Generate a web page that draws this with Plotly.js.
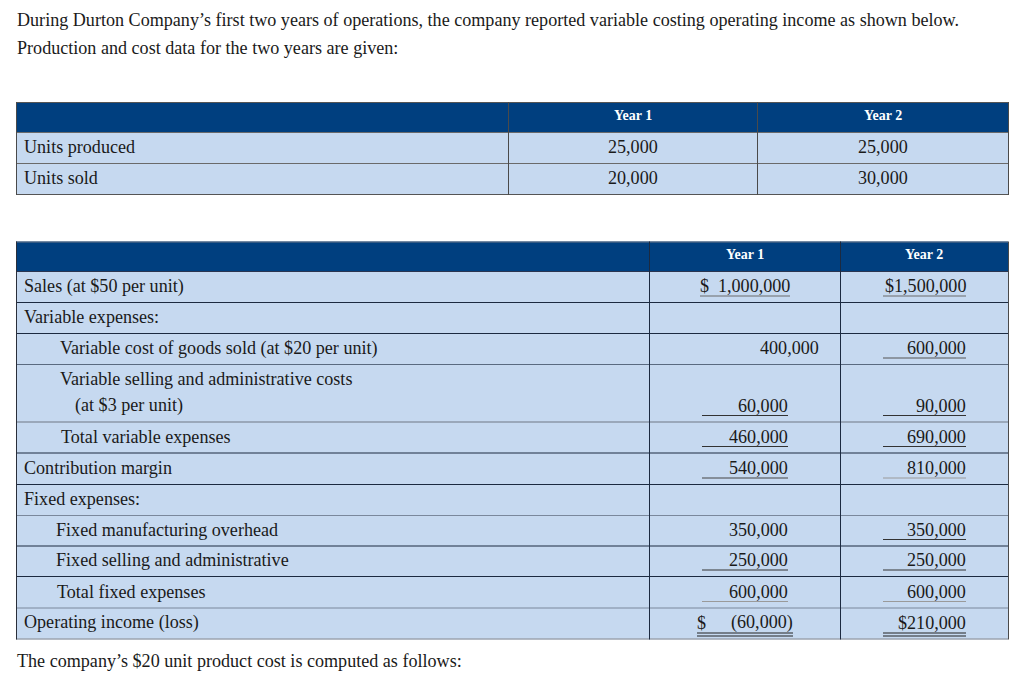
<!DOCTYPE html>
<html>
<head>
<meta charset="utf-8">
<script src="https://cdn.plot.ly/plotly-3.0.1.min.js"></script>
<style>
html, body { margin: 0; padding: 0; background: #ffffff; }
#chart { width: 1024px; height: 688px; }
</style>
</head>
<body>
<div id="chart"></div>
<script>
// ---------------- data ----------------
const introLines = [
  "During Durton Company’s first two years of operations, the company reported variable costing operating income as shown below.",
  "Production and cost data for the two years are given:"
];
const footerText = "The company’s $20 unit product cost is computed as follows:";
const yearLabels = ["Year 1", "Year 2"];

const unitRows = ["Units produced", "Units sold"];
const unitsYear1 = [25000, 20000];
const unitsYear2 = [25000, 30000];

const incomeRows = [
  ["Sales (at $50 per unit)"],
  ["Variable expenses:"],
  ["Variable cost of goods sold (at $20 per unit)"],
  ["Variable selling and administrative costs", "(at $3 per unit)"],
  ["Total variable expenses"],
  ["Contribution margin"],
  ["Fixed expenses:"],
  ["Fixed manufacturing overhead"],
  ["Fixed selling and administrative"],
  ["Total fixed expenses"],
  ["Operating income (loss)"]
];
const incomeYear1 = [1000000, null, 400000, 60000, 460000, 540000, null, 350000, 250000, 600000, -60000];
const incomeYear2 = [1500000, null, 600000, 90000, 690000, 810000, null, 350000, 250000, 600000, 210000];
// which rows carry a dollar sign
const dollarRows = [true, false, false, false, false, false, false, false, false, false, true];

// ---------------- layout / style (not data) ----------------
const FONT = '"Liberation Serif", "Times New Roman", Times, serif';
const NAVY = '#003f7f';
const LIGHT = '#c6d9f0';
const TXT = '#1a1a1a';

const T1 = { cols: [16, 508, 757, 1008], top: 102, heights: [30, 31, 31] };
const T2 = { cols: [16, 649, 840, 1008], top: 241.5,
             heights: [29.5, 31, 31, 31, 57.5, 31, 31.5, 31, 30.5, 30.5, 31.5, 31] };
// label x positions (indentation), second-line indent for wrapped label
const labelX2 = [24, 24, 60, 60, 61, 24, 24, 56, 56, 57, 24];
const labelX2b = 75;
// underline kind per row: 0 none, 1 single, 2 double
const rule1 = [1, 0, 0, 1, 1, 1, 0, 0, 1, 1, 2];
const rule2 = [1, 0, 1, 1, 1, 1, 0, 1, 1, 1, 2];
const ruleColor1 = ['#6a6a6a', '', '', '#333', '#333', '#444', '', '', '#333', '#9a9a9a', '#222'];
const ruleColor2 = ['#6a6a6a', '', '#555', '#333', '#333', '#9a9a9a', '', '#333', '#333', '#9a9a9a', '#222'];
// right edges of values
const rightY1 = [790, 788, 819, 788, 788, 788, 788, 788, 788, 788, 793];
const rightY2 = 966;
const dollarX1 = [700, 0, 0, 0, 0, 0, 0, 0, 0, 0, 697];
const ruleX1 = [[700, 790], [702, 788], [702, 788], [702, 788], [702, 788], [702, 788], [702, 788], [702, 788], [702, 788], [702, 788], [697, 793]];
const ruleX2 = [883, 966];
// bottom border colour per row of table 2 (index 0 = header)
const border2 = ['#2a3550', '#1c2a40', '#1c2a40', '#5a6a80', '#9aa8ba', '#1c2a40', '#1c2a40', '#7a889c', '#1c2a40', '#1c2a40', '#7a889c', '#6a7688'];

// ---------------- helpers ----------------
const shapes = [];
const annotations = [];
function rect(x0, x1, y0, y1, fill) {
  shapes.push({ type: 'rect', xref: 'x', yref: 'y', x0, x1, y0, y1, fillcolor: fill, line: { width: 0 }, layer: 'below' });
}
function hline(x0, x1, y, color, w) {
  shapes.push({ type: 'line', xref: 'x', yref: 'y', x0, x1, y0: y, y1: y, line: { color, width: w || 1 } });
}
function vline(x, y0, y1, color, w) {
  shapes.push({ type: 'line', xref: 'x', yref: 'y', x0: x, x1: x, y0, y1, line: { color, width: w || 1 } });
}
function label(str, x, y, anchor, font) {
  annotations.push({
    xref: 'x', yref: 'y', x, y, text: str, showarrow: false,
    xanchor: anchor, yanchor: 'middle', borderpad: 0, borderwidth: 0,
    font: Object.assign({ family: FONT, size: 18.1, color: TXT }, font || {})
  });
}
function fmt(v) {
  const s = Math.abs(v).toLocaleString('en-US');
  return v < 0 ? '(' + s + ')' : s;
}
function edges(t) {
  const e = [t.top];
  t.heights.forEach(h => e.push(e[e.length - 1] + h));
  return e;
}

// ---------------- intro / footer text ----------------
label(introLines[0], 17, 20, 'left');
label(introLines[1], 17, 48, 'left');
label(footerText, 17, 661, 'left');

// ---------------- table 1 ----------------
(function () {
  const c = T1.cols, e = edges(T1);
  rect(c[0], c[3], e[0], e[1], NAVY);
  rect(c[0], c[3], e[1], e[e.length - 1], LIGHT);
  hline(c[0], c[3], e[0] + 0.5, '#555');
  for (let i = 1; i < e.length; i++) hline(c[0], c[3], e[i] + 0.5, i === e.length - 1 ? '#555' : '#6a6a6a');
  vline(c[0] + 0.5, e[0], e[e.length - 1] + 1, '#4a4a4a');
  vline(c[1] + 0.5, e[0], e[e.length - 1] + 1, '#4a4a4a');
  vline(c[2] + 0.5, e[0], e[e.length - 1] + 1, '#4a4a4a');
  vline(c[3] + 0.5, e[0], e[e.length - 1] + 1, '#4a4a4a');
  yearLabels.forEach((yl, k) => {
    label('<b>' + yl + '</b>', (c[k + 1] + c[k + 2]) / 2, (e[0] + e[1]) / 2 - 1.5, 'center', { size: 14, color: '#ffffff' });
  });
  unitRows.forEach((r, i) => {
    const yc = (e[i + 1] + e[i + 2]) / 2 - 0.5;
    label(r, 24, yc, 'left');
    label(fmt(unitsYear1[i]), (c[1] + c[2]) / 2, yc, 'center');
    label(fmt(unitsYear2[i]), (c[2] + c[3]) / 2, yc, 'center');
  });
})();

// ---------------- table 2 ----------------
(function () {
  const c = T2.cols, e = edges(T2);
  rect(c[0], c[3], e[0], e[1], NAVY);
  rect(c[0], c[3], e[1], e[e.length - 1], LIGHT);
  hline(c[0], c[3], e[0] + 0.5, '#6a7688');
  for (let i = 1; i < e.length; i++) {
    hline(c[0], c[3], e[i] + 0.5, border2[i - 1], i === 5 ? 2 : 1);
  }
  vline(c[0] + 0.5, e[0], e[e.length - 1] + 1, '#2a2f3a');
  vline(c[1] + 0.5, e[0], e[e.length - 1] + 1, '#1c2a40');
  vline(c[2] + 0.5, e[0], e[e.length - 1] + 1, '#1c2a40');
  vline(c[3] + 0.5, e[0], e[e.length - 1] + 1, '#4a4a4a');
  yearLabels.forEach((yl, k) => {
    label('<b>' + yl + '</b>', (c[k + 1] + c[k + 2]) / 2, (e[0] + e[1]) / 2 - 1.5, 'center', { size: 14, color: '#ffffff' });
  });
  incomeRows.forEach((lines, i) => {
    const top = e[i + 1], bot = e[i + 2];
    const yv = bot - 16;
    if (lines.length === 1) {
      label(lines[0], labelX2[i], yv, 'left');
    } else {
      label(lines[0], labelX2[i], top + 15, 'left');
      label(lines[1], labelX2b, yv, 'left');
    }
    const v1 = incomeYear1[i], v2 = incomeYear2[i];
    if (v1 !== null) {
      if (dollarRows[i]) label('$', dollarX1[i], yv, 'left');
      label(fmt(v1), rightY1[i], yv, 'right');
    }
    if (v2 !== null) {
      label((dollarRows[i] ? '$' : '') + fmt(v2), rightY2, yv, 'right');
    }
    const ry = bot - 6;
    if (rule1[i] === 1) hline(ruleX1[i][0], ruleX1[i][1], ry, ruleColor1[i]);
    if (rule1[i] === 2) { hline(ruleX1[i][0], ruleX1[i][1], bot - 5.5, ruleColor1[i]); hline(ruleX1[i][0], ruleX1[i][1], bot - 2.5, ruleColor1[i]); }
    if (rule2[i] === 1) hline(ruleX2[0], ruleX2[1], ry, ruleColor2[i]);
    if (rule2[i] === 2) { hline(ruleX2[0], ruleX2[1], bot - 5.5, ruleColor2[i]); hline(ruleX2[0], ruleX2[1], bot - 2.5, ruleColor2[i]); }
  });
})();

const layout = {
  width: 1024, height: 688,
  margin: { l: 0, r: 0, t: 0, b: 0, pad: 0 },
  paper_bgcolor: '#ffffff', plot_bgcolor: '#ffffff',
  showlegend: false,
  xaxis: { range: [0, 1024], visible: false, fixedrange: true },
  yaxis: { range: [688, 0], visible: false, fixedrange: true },
  shapes, annotations,
  hovermode: false
};
Plotly.newPlot('chart', [{ type: 'scatter', x: [], y: [], mode: 'none', hoverinfo: 'skip' }], layout, { staticPlot: true, displayModeBar: false });
</script>
</body>
</html>
